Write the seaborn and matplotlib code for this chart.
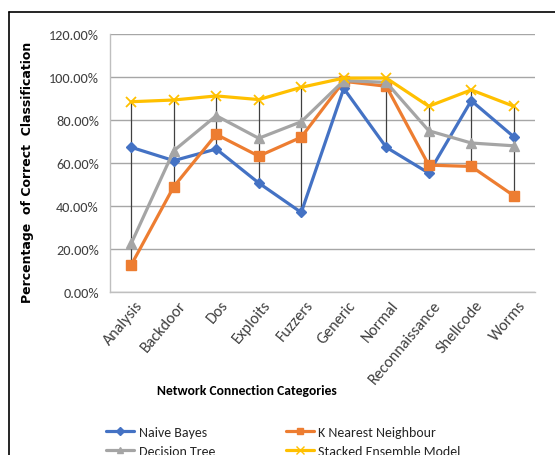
import matplotlib
matplotlib.use("Agg")
import matplotlib.pyplot as plt
import matplotlib.ticker as mticker
import matplotlib.transforms as mtransforms
from matplotlib.lines import Line2D
import numpy as np
import pandas as pd
import seaborn as sns

categories = ["Analysis", "Backdoor", "Dos", "Exploits", "Fuzzers", "Generic",
              "Normal", "Reconnaissance", "Shellcode", "Worms"]
naive_bayes = [67.3, 61.1, 66.5, 50.7, 37.0, 94.7, 67.3, 55.3, 89.0, 72.2]
knn = [12.6, 49.0, 73.3, 63.2, 72.0, 98.0, 95.7, 59.0, 58.4, 44.8]
decision_tree = [22.6, 65.7, 82.0, 71.5, 79.2, 98.3, 97.5, 75.0, 69.3, 68.0]
stacked = [88.5, 89.3, 91.2, 89.5, 95.2, 99.5, 99.5, 86.4, 94.0, 86.4]

series_names = ["Naive Bayes", "K Nearest Neighbour", "Decision Tree",
                "Stacked Ensemble Model"]
series_values = [naive_bayes, knn, decision_tree, stacked]

colors = {"Naive Bayes": "#4472C4", "K Nearest Neighbour": "#ED7D31",
          "Decision Tree": "#A5A5A5", "Stacked Ensemble Model": "#FFC000"}
markers = {"Naive Bayes": "D", "K Nearest Neighbour": "s",
           "Decision Tree": "^", "Stacked Ensemble Model": "x"}
msizes = {"Naive Bayes": 5.5, "K Nearest Neighbour": 6.5,
          "Decision Tree": 6.5, "Stacked Ensemble Model": 7}

rows = []
for name, vals in zip(series_names, series_values):
    for cat, v in zip(categories, vals):
        rows.append({"Category": cat, "Model": name, "Value": v / 100.0})
df = pd.DataFrame(rows)

sns.set_theme(style="white")
base_font = ["Carlito", "DejaVu Sans"]
plt.rcParams["font.family"] = base_font

fig = plt.figure(figsize=(5.55, 4.56), dpi=100)
ax = fig.add_axes([110 / 555, 1 - 293 / 456, 425 / 555, 258 / 456])

# high-low lines spanning the series at each category
wide = df.pivot(index="Category", columns="Model", values="Value").loc[categories]
ax.vlines(np.arange(len(categories)), wide.min(axis=1), wide.max(axis=1),
          color="#404040", linewidth=0.9, zorder=2)

for name in series_names:
    sub = df[df["Model"] == name]
    sns.lineplot(data=sub, x="Category", y="Value", ax=ax, color=colors[name],
                 linewidth=2.3, marker=markers[name], markersize=msizes[name],
                 markeredgecolor=colors[name],
                 markeredgewidth=1.3 if name == "Stacked Ensemble Model" else 1.0,
                 label=name, zorder=3, sort=False)

ax.set_xlim(-0.5, len(categories) - 0.5)
ax.set_ylim(0, 1.2)
ax.set_yticks(np.arange(0, 1.21, 0.2))
ax.yaxis.set_major_formatter(mticker.FuncFormatter(lambda v, p: f"{v * 100:.2f}%"))
ax.grid(axis="y", color="#A6A6A6", linewidth=1.0)
ax.grid(axis="x", visible=False)
for side in ["top", "right"]:
    ax.spines[side].set_visible(False)
for side in ["left", "bottom"]:
    ax.spines[side].set_color("#BFBFBF")
    ax.spines[side].set_linewidth(1.0)
ax.tick_params(axis="y", length=0, pad=8, labelsize=10.3, labelcolor="#404040")
ax.tick_params(axis="x", length=0, pad=4, labelsize=11.5, labelcolor="#404040")
ax.set_xticks(np.arange(len(categories)))
ax.set_xticklabels(categories, rotation=50, ha="right", rotation_mode="anchor")
shift = mtransforms.ScaledTranslation(4 / 100, 0, fig.dpi_scale_trans)
for lbl in ax.get_xticklabels():
    lbl.set_family(base_font)
    lbl.set_transform(lbl.get_transform() + shift)
for lbl in ax.get_yticklabels():
    lbl.set_family(base_font)
ax.set_xlabel("")
ax.set_ylabel("")
if ax.get_legend():
    ax.get_legend().remove()

fig.text(247 / 555, 1 - 391 / 456, "Network Connection Categories",
         ha="center", va="center", fontsize=9.8, fontweight="bold",
         family=base_font, color="black")
fig.text(28 / 555, 1 - 172 / 456, "Percentage  of Correct  Classification",
         ha="center", va="center", rotation=90, fontsize=9.0,
         fontweight="bold", family=["DejaVu Sans"], color="black")

handles = [Line2D([], [], color=colors[n], linewidth=2.3, marker=markers[n],
                  markersize=msizes[n] - 1.5, markeredgecolor=colors[n])
           for n in series_names]
order = [0, 2, 1, 3]
fig.legend([handles[i] for i in order], [series_names[i] for i in order],
           ncol=2, frameon=False, loc="upper left",
           bbox_to_anchor=(106 / 555, 1 - 427 / 456), fontsize=10,
           handlelength=2.05, handletextpad=0.3, columnspacing=5.1,
           labelspacing=0.5, borderaxespad=0, borderpad=0,
           labelcolor="#262626")

# chart-area frame
fig.add_artist(Line2D([9 / 555, 1.0], [1 - 13 / 456, 1 - 13 / 456],
                      color="black", linewidth=1.2, transform=fig.transFigure))
fig.add_artist(Line2D([9 / 555, 9 / 555], [1 - 13 / 456, 0],
                      color="black", linewidth=1.2, transform=fig.transFigure))

fig.savefig("out.png", dpi=100)
